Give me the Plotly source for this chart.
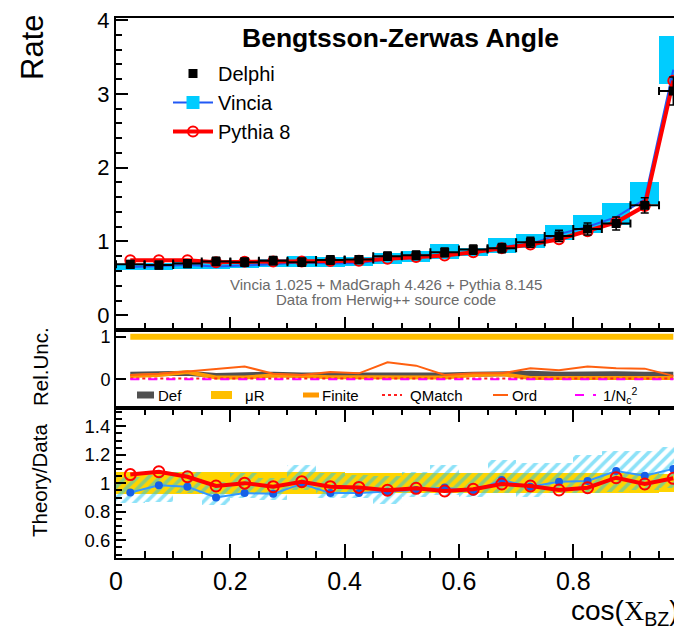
import plotly.graph_objects as go

# ---- data ----
# 20 bins of width 0.05 in cos(X_BZ)
x_bins = [0.025, 0.075, 0.125, 0.175, 0.225, 0.275, 0.325, 0.375, 0.425, 0.475,
          0.525, 0.575, 0.625, 0.675, 0.725, 0.775, 0.825, 0.875, 0.925, 0.975]

delphi = [0.69, 0.68, 0.70, 0.73, 0.72, 0.74, 0.72, 0.75, 0.755, 0.80,
          0.813, 0.853, 0.89, 0.91, 0.99, 1.076, 1.17, 1.244, 1.49, 3.04]
delphi_err = [0.053, 0.052, 0.054, 0.056, 0.055, 0.057, 0.055, 0.058, 0.053, 0.056,
              0.057, 0.060, 0.062, 0.064, 0.069, 0.075, 0.082, 0.087, 0.104, 0.19]

vincia = [0.655, 0.67, 0.68, 0.66, 0.67, 0.69, 0.72, 0.70, 0.71, 0.755,
          0.78, 0.83, 0.84, 0.93, 0.965, 1.10, 1.20, 1.33, 1.57, 3.33]
vincia_lo = [0.61, 0.62, 0.63, 0.63, 0.64, 0.65, 0.65, 0.66, 0.67, 0.70,
             0.72, 0.76, 0.80, 0.845, 0.91, 1.02, 1.11, 1.22, 1.51, 3.14]
vincia_hi = [0.70, 0.71, 0.72, 0.72, 0.73, 0.76, 0.80, 0.79, 0.79, 0.84,
             0.87, 0.965, 0.91, 1.045, 1.10, 1.23, 1.356, 1.52, 1.81, 3.78]

pythia = [0.745, 0.745, 0.745, 0.72, 0.725, 0.73, 0.73, 0.735, 0.74, 0.765,
          0.79, 0.81, 0.855, 0.91, 0.96, 1.03, 1.14, 1.26, 1.48, 3.18]

# relative uncertainties (middle pad)
unc_def = [0.12, 0.13, 0.14, 0.09, 0.11, 0.12, 0.10, 0.10, 0.09, 0.09,
           0.10, 0.10, 0.12, 0.13, 0.14, 0.12, 0.13, 0.13, 0.12, 0.12]
unc_mur = [1.0, 1.0, 1.0, 1.0, 1.0, 1.0, 1.0, 1.0, 1.0, 1.0,
           1.0, 1.0, 1.0, 1.0, 1.0, 1.0, 1.0, 1.0, 1.0, 1.0]
unc_finite = [0.08, 0.10, 0.17, 0.04, 0.04, 0.09, 0.08, 0.05, 0.05, 0.05,
              0.05, 0.04, 0.10, 0.12, 0.03, 0.03, 0.03, 0.03, 0.04, 0.03]
unc_qmatch = [0.02, 0.02, 0.02, 0.02, 0.02, 0.02, 0.02, 0.02, 0.02, 0.02,
              0.02, 0.02, 0.02, 0.02, 0.02, 0.02, 0.02, 0.02, 0.02, 0.02]
unc_ord = [0.10, 0.13, 0.18, 0.24, 0.30, 0.13, 0.10, 0.17, 0.14, 0.40,
           0.32, 0.10, 0.14, 0.14, 0.26, 0.21, 0.30, 0.26, 0.25, 0.08]
unc_nc = [0.0, 0.0, 0.0, 0.0, 0.0, 0.0, 0.0, 0.0, 0.0, 0.0,
          0.0, 0.0, 0.0, 0.0, 0.0, 0.0, 0.0, 0.0, 0.0, 0.0]

# theory / data
ratio_pythia = [1.061, 1.081, 1.046, 0.981, 1.001, 0.976, 1.011, 0.976, 0.971, 0.951,
                0.965, 0.946, 0.958, 0.995, 0.981, 0.953, 0.969, 1.039, 0.995, 1.035]
ratio_vincia = [0.936, 0.986, 0.976, 0.901, 0.931, 0.926, 0.996, 0.931, 0.931, 0.941,
                0.953, 0.971, 0.941, 1.023, 0.976, 1.011, 1.016, 1.086, 1.053, 1.101]
ratio_vincia_lo = [0.861, 0.871, 0.931, 0.848, 0.895, 0.881, 0.953, 0.895, 0.895, 0.855,
                   0.906, 0.918, 0.906, 0.931, 0.906, 0.931, 0.931, 0.941, 0.953, 0.965]
ratio_vincia_hi = [1.042, 1.058, 1.081, 1.011, 1.071, 1.035, 1.128, 1.071, 1.058, 1.050,
                   1.081, 1.128, 1.071, 1.161, 1.141, 1.141, 1.198, 1.229, 1.229, 1.257]

# ---- styling ----
# the page body has an 8px margin, so the figure is 8px smaller than the window
PAGE = 8
W, H = 682 - PAGE, 632 - PAGE
# plot area in window pixels: x 116..682, y 18..558
PL, PR, PT, PB = 116, 682, 18, 558
FONT = "Liberation Sans"
CYAN = "#00CCFF"
BLUE = "#2159F5"
RED = "#FF0000"


def px_x(px):
    return (px - PL) / (PR - PL)


def px_y(py):
    return (PB - py) / (PB - PT)


fig = go.Figure()

# ---------- top pad ----------
fig.add_trace(go.Bar(x=x_bins, base=vincia_lo,
                     y=[h - l for h, l in zip(vincia_hi, vincia_lo)],
                     width=0.05, marker=dict(color=CYAN, line=dict(width=0)),
                     showlegend=False, xaxis="x", yaxis="y"))
fig.add_trace(go.Scatter(x=x_bins, y=vincia, mode="lines",
                         line=dict(color=BLUE, width=2),
                         showlegend=False, xaxis="x", yaxis="y"))
fig.add_trace(go.Scatter(x=x_bins, y=pythia, mode="lines+markers",
                         line=dict(color=RED, width=4),
                         marker=dict(symbol="circle-open", size=10, color=RED,
                                     line=dict(width=2, color=RED)),
                         showlegend=False, xaxis="x", yaxis="y"))
fig.add_trace(go.Scatter(x=x_bins, y=delphi, mode="markers",
                         marker=dict(symbol="square", size=9, color="black"),
                         error_x=dict(type="constant", value=0.025, color="black",
                                      thickness=2, width=4),
                         error_y=dict(type="data", array=delphi_err, color="black",
                                      thickness=1.5, width=4),
                         showlegend=False, xaxis="x", yaxis="y"))
# legend entries
fig.add_trace(go.Scatter(x=[None], y=[None], mode="markers", name="Delphi",
                         marker=dict(symbol="square", size=9, color="black")))
fig.add_trace(go.Scatter(x=[None], y=[None], mode="lines+markers", name="Vincia",
                         line=dict(color=BLUE, width=2),
                         marker=dict(symbol="square", size=13, color=CYAN)))
fig.add_trace(go.Scatter(x=[None], y=[None], mode="lines+markers", name="Pythia 8",
                         line=dict(color=RED, width=4),
                         marker=dict(symbol="circle-open", size=10, color=RED,
                                     line=dict(width=2, color=RED))))

# ---------- middle pad ----------
unc_styles = [
    (unc_def, "#505050", 5, "solid"),
    (unc_mur, "#FFBF00", 6, "solid"),
    (unc_finite, "#FF9900", 4, "solid"),
    (unc_qmatch, "#FF2020", 2, "dot"),
    (unc_ord, "#FF6010", 2, "solid"),
    (unc_nc, "#FF00FF", 2, "dash"),
]
for vals, col, wd, dash in unc_styles:
    fig.add_trace(go.Scatter(x=x_bins, y=vals, mode="lines",
                             line=dict(color=col, width=wd, dash=dash),
                             showlegend=False, xaxis="x2", yaxis="y2"))

# ---------- bottom pad ----------
band_lo = [1 - e / d for e, d in zip(delphi_err, delphi)]
band_h = [2 * e / d for e, d in zip(delphi_err, delphi)]
fig.add_trace(go.Bar(x=x_bins, base=band_lo, y=band_h, width=0.05,
                     marker=dict(color="#FFD400", line=dict(width=0)),
                     showlegend=False, xaxis="x3", yaxis="y3"))
fig.add_trace(go.Bar(x=x_bins, base=ratio_vincia_lo,
                     y=[h - l for h, l in zip(ratio_vincia_hi, ratio_vincia_lo)],
                     width=0.05,
                     marker=dict(color="rgba(0,0,0,0)", line=dict(width=0),
                                 pattern=dict(shape="/", fgcolor="#1CC6F2",
                                              bgcolor="rgba(0,0,0,0)",
                                              size=8, solidity=0.45)),
                     showlegend=False, xaxis="x3", yaxis="y3"))
fig.add_trace(go.Scatter(x=x_bins, y=ratio_vincia, mode="lines+markers",
                         line=dict(color="#3399FF", width=2),
                         marker=dict(symbol="circle", size=8, color="#1560E8"),
                         showlegend=False, xaxis="x3", yaxis="y3"))
fig.add_trace(go.Scatter(x=x_bins, y=ratio_pythia, mode="lines+markers",
                         line=dict(color=RED, width=4),
                         marker=dict(symbol="circle-open", size=11, color=RED,
                                     line=dict(width=2, color=RED)),
                         showlegend=False, xaxis="x3", yaxis="y3"))

xrange = [0, (PR - PL) / 571.6]
d_top = [px_y(330), 1]
d_mid = [px_y(408), px_y(330)]
d_bot = [0, px_y(408)]

axis_common = dict(showline=True, linecolor="black", linewidth=2,
                   tickcolor="black", tickwidth=2, showgrid=False, zeroline=False,
                   ticks="inside", automargin=False, ticklabeloverflow="allow")

fig.update_layout(
    width=W, height=H,
    margin=dict(l=PL - PAGE, r=0, t=PT - PAGE, b=632 - PB, autoexpand=False),
    paper_bgcolor="white", plot_bgcolor="white",
    font=dict(family=FONT, color="black"),
    barmode="overlay", bargap=0,
    showlegend=True,
    legend=dict(x=px_x(168), y=px_y(54), xanchor="left", yanchor="top",
                bgcolor="rgba(0,0,0,0)", font=dict(size=20, family=FONT),
                itemwidth=40, tracegroupgap=0),
    xaxis=dict(axis_common, domain=[0, 1], range=xrange, anchor="y",
               mirror=True, showticklabels=False, dtick=0.2, tick0=0, ticklen=13,
               minor=dict(dtick=0.05, ticklen=7, ticks="inside",
                          tickcolor="black", tickwidth=1.5)),
    yaxis=dict(axis_common, domain=d_top, range=[-0.2, 4.03], anchor="x",
               dtick=1, tick0=0, ticklen=12, tickfont=dict(size=22),
               minor=dict(dtick=0.2, ticklen=6, ticks="inside",
                          tickcolor="black", tickwidth=1.5)),
    xaxis2=dict(axis_common, domain=[0, 1], range=xrange, anchor="y2",
                mirror=True, ticks="", showticklabels=False),
    yaxis2=dict(axis_common, domain=d_mid, range=[-0.674, 1.157], anchor="x2",
                tickvals=[0, 1], ticklen=10, tickfont=dict(size=18)),
    xaxis3=dict(axis_common, domain=[0, 1], range=xrange, anchor="y3",
                mirror="ticks", dtick=0.2, tick0=0, ticklen=14,
                tickfont=dict(size=25),
                minor=dict(dtick=0.05, ticklen=7, ticks="inside",
                           tickcolor="black", tickwidth=1.5)),
    yaxis3=dict(axis_common, domain=d_bot, range=[0.476, 1.528], anchor="x3",
                dtick=0.2, tick0=0, ticklen=10, tickfont=dict(size=18.5),
                minor=dict(dtick=0.05, ticklen=6, ticks="inside",
                           tickcolor="black", tickwidth=1.5)),
)

ann = [
    dict(text="<b>Bengtsson-Zerwas Angle</b>", x=px_x(400), y=px_y(38),
         font=dict(size=26.5)),
    dict(text="Vincia 1.025 + MadGraph 4.426 + Pythia 8.145", x=px_x(386),
         y=px_y(284.5), font=dict(size=15, color="#6a6a6a")),
    dict(text="Data from Herwig++ source code", x=px_x(386), y=px_y(300),
         font=dict(size=15, color="#6a6a6a")),
    dict(text="Rate", x=px_x(32), y=px_y(48), textangle=-90, font=dict(size=31)),
    dict(text="Rel.Unc.", x=px_x(40), y=px_y(367), textangle=-90,
         font=dict(size=20.5)),
    dict(text="Theory/Data", x=px_x(39), y=px_y(481), textangle=-90,
         font=dict(size=20.5)),
    dict(text="cos(<span style='font-family:Liberation Serif'>X</span><sub>BZ</sub>)",
         x=px_x(681), y=px_y(612), xanchor="right", font=dict(size=28)),
]

# legend of the middle pad
unc_legend = [
    ("Def", 137, 154, 156, "#505050", 7, "solid"),
    ("μR", 211, 232, 243, "#FFBF00", 8, "solid"),
    ("Finite", 303, 319, 320, "#FF9900", 5, "solid"),
    ("QMatch", 382, 402, 408, "#FF2020", 2, "dot"),
    ("Ord", 493, 508, 510, "#FF6010", 2, "solid"),
    ("1/N<sub>c</sub><sup>2</sup>", 575, 596, 601, "#FF00FF", 2, "dash"),
]
shapes = []
for label, x0, x1, xt, col, wd, dash in unc_legend:
    shapes.append(dict(type="line", xref="paper", yref="paper",
                       x0=px_x(x0), x1=px_x(x1), y0=px_y(395), y1=px_y(395),
                       line=dict(color=col, width=wd, dash=dash)))
    ann.append(dict(text=label, x=px_x(xt), y=px_y(395), xanchor="left",
                    font=dict(size=15)))

for a in ann:
    a.setdefault("xref", "paper")
    a.setdefault("yref", "paper")
    a.setdefault("showarrow", False)
    a.setdefault("xanchor", "center")
    a.setdefault("yanchor", "middle")

fig.update_layout(annotations=ann, shapes=shapes)

fig.write_html("out.html")
